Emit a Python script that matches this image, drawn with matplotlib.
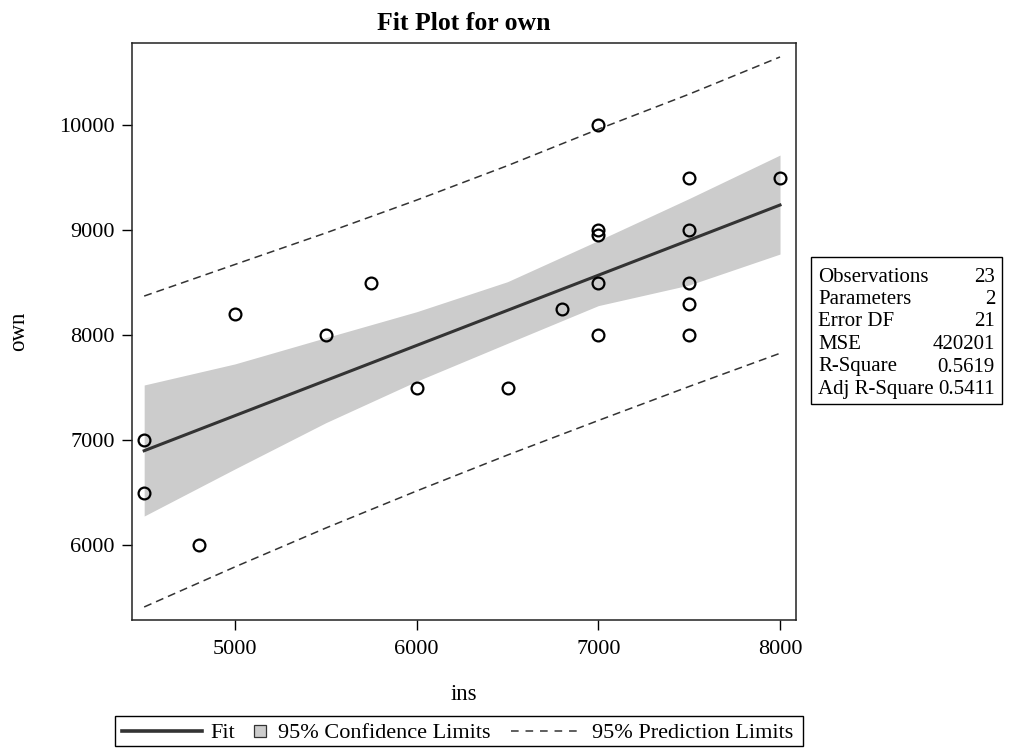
import matplotlib
matplotlib.use("Agg")
import matplotlib.pyplot as plt
from matplotlib.lines import Line2D
from matplotlib.patches import Rectangle

plt.rcParams['font.family'] = ['Liberation Serif', 'DejaVu Serif']

# observed data
ins = [4500, 4500, 4800, 5000, 5500, 5750, 6000, 6500, 6800,
       7000, 7000, 7000, 7000, 7000, 7500, 7500, 7500, 7500, 7500, 8000]
own = [7000, 6500, 6000, 8200, 8000, 8500, 7500, 7500, 8250,
       10000, 9000, 8950, 8500, 8000, 9500, 9000, 8500, 8300, 8000, 9500]

# fit line and limits
fit_x = [4500, 8000]
fit_y = [6898, 9238]
band_x = [4500, 5000, 5500, 6000, 6500, 7000, 7500, 8000]
ci_upper = [7524, 7725, 7975, 8222, 8508, 8900, 9300, 9714]
ci_lower = [6276, 6725, 7165, 7560, 7921, 8280, 8476, 8771]
pi_upper = [8371, 8672, 8972, 9285, 9613, 9960, 10294, 10648]
pi_lower = [5410, 5792, 6162, 6515, 6857, 7186, 7510, 7826]

stat_names = ["Observations", "Parameters", "Error DF", "MSE", "R-Square", "Adj R-Square"]
stat_values = ["23", "2", "21", "420201", "0.5619", "0.5411"]

xticks = [5000, 6000, 7000, 8000]
yticks = [6000, 7000, 8000, 9000, 10000]
legend_labels = ["Fit", "95% Confidence Limits", "95% Prediction Limits"]

W, H = 1009, 750
fig = plt.figure(figsize=(W/100, H/100), dpi=100)
ax = fig.add_axes([132/W, 1-620/H, (796-132)/W, (620-43)/H])

dash = (0, (5.2, 3.3))
ax.fill_between(band_x, ci_lower, ci_upper, color='#cccccc', linewidth=0, zorder=1)
ax.plot(fit_x, fit_y, color='#333333', linewidth=2.2, zorder=3)
ax.plot(band_x, pi_upper, color='#333333', linewidth=1.1, linestyle=dash, zorder=2)
ax.plot(band_x, pi_lower, color='#333333', linewidth=1.1, linestyle=dash, zorder=2)
ax.plot(ins, own, linestyle='none', marker='o', markersize=8.5, markerfacecolor='none',
        markeredgecolor='black', markeredgewidth=1.6, zorder=4)

ax.set_xlim(4433, 8088)
ax.set_ylim(5286, 10781)
ax.set_xticks(xticks)
ax.set_yticks(yticks)
ax.tick_params(direction='out', length=7.5, width=1, labelsize=16, colors='black', pad=5)
ax.tick_params(axis='x', pad=7)
for s in ax.spines.values():
    s.set_linewidth(1.1)
    s.set_color('#222222')

ax.set_xlabel("ins", fontsize=16.5)
ax.xaxis.set_label_coords(0.5, (620-695)/577)
ax.xaxis.label.set_verticalalignment('center')
ax.set_ylabel("own", fontsize=16.5)
ax.yaxis.set_label_coords((19-132)/664, 0.5)
ax.yaxis.label.set_verticalalignment('center')
ax.set_title("Fit Plot for own", fontsize=18.5, fontweight='bold', pad=9)

def fx(px):
    return px / W

def fy(py):
    return 1 - py / H

# statistics table
tx0, ty0, tx1, ty1 = 811, 257, 1002, 404
fig.add_artist(Rectangle((fx(tx0), fy(ty1)), (tx1-tx0)/W, (ty1-ty0)/H,
                         transform=fig.transFigure, fill=False, edgecolor='black',
                         linewidth=1.0))
for i, (n, v) in enumerate(zip(stat_names, stat_values)):
    yc = 274.5 + 22.5 * i
    fig.text(fx(818), fy(yc), n, fontsize=15, ha='left', va='center_baseline')
    fig.text(fx(995), fy(yc), v, fontsize=15, ha='right', va='center_baseline')

# legend (drawn by hand to match the compact SAS layout)
lx0, ly0, lx1, ly1 = 115, 716, 803, 746
fig.add_artist(Rectangle((fx(lx0), fy(ly1)), (lx1-lx0)/W, (ly1-ly0)/H,
                         transform=fig.transFigure, fill=False, edgecolor='black',
                         linewidth=1.0))
yl = 731
fig.add_artist(Line2D([fx(122), fx(202)], [fy(yl), fy(yl)], transform=fig.transFigure,
                      color='#333333', linewidth=2.6))
fig.text(fx(210), fy(yl), legend_labels[0], fontsize=16, ha='left', va='center_baseline')
fig.add_artist(Rectangle((fx(254), fy(737)), 12/W, 12/H, transform=fig.transFigure,
                         facecolor='#cccccc', edgecolor='#333333', linewidth=0.9))
fig.text(fx(278), fy(yl), legend_labels[1], fontsize=16, ha='left', va='center_baseline')
fig.add_artist(Line2D([fx(511), fx(583)], [fy(yl), fy(yl)], transform=fig.transFigure,
                      color='#333333', linewidth=1.1, linestyle=(0, (5.0, 4.5))))
fig.text(fx(592), fy(yl), legend_labels[2], fontsize=16, ha='left', va='center_baseline')

fig.savefig("out.png", dpi=100)
